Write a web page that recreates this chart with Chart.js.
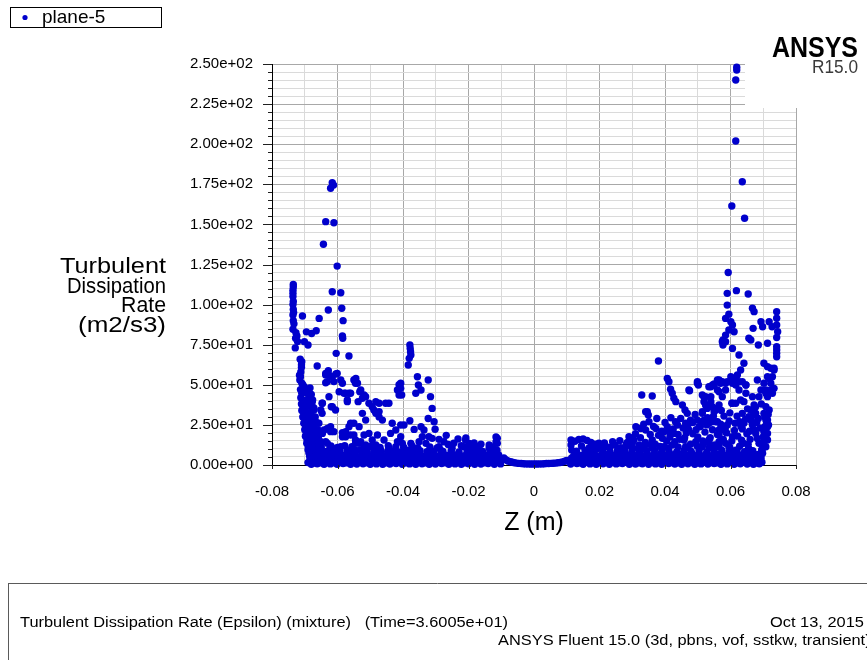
<!DOCTYPE html>
<html>
<head>
<meta charset="utf-8">
<title>plane-5 - Turbulent Dissipation Rate</title>
<script src="https://cdn.jsdelivr.net/npm/chart.js@4.4.1/dist/chart.umd.min.js"></script>
<style>
    html, body { margin: 0; padding: 0; background: #ffffff; }
    canvas { display: block; }
</style>
</head>
<body>
<canvas id="epsChart" width="867" height="660"></canvas>
<script>
// ===== DATA: [z (m), epsilon (m2/s3)] samples on plane-5 =====
const seriesName = 'plane-5';
const zTicksMajor = ['-0.08', '-0.06', '-0.04', '-0.02', '0', '0.02', '0.04', '0.06', '0.08'];

// isolated high values near the left jet
const leftPeaks = [
    [-0.0616, 176], [-0.0621, 172.5], [-0.0612, 174.5], [-0.0636, 151.7], [-0.0611, 151],
    [-0.0643, 137.6], [-0.0601, 124], [-0.0616, 108], [-0.0590, 107.4], [-0.0628, 96.6],
    [-0.0587, 97.7], [-0.0583, 90], [-0.0656, 91.4], [-0.0707, 92.9], [-0.0695, 83],
    [-0.0679, 82], [-0.0665, 83.7], [-0.0585, 80.4], [-0.0584, 79], [-0.0701, 76.9],
    [-0.0690, 74.8], [-0.0604, 69.6], [-0.0565, 68], [-0.0662, 61.7],
    [-0.0379, 74.8], [-0.0378, 72.7], [-0.0377, 70.6], [-0.0376, 68.6], [-0.0381, 66.5], [-0.0384, 62.3]
];

// near-wall band on the left side
const leftWall = [
    [-0.0735, 112.6], [-0.0735, 111], [-0.0736, 109], [-0.0736, 107], [-0.0736, 105],
    [-0.0735, 102], [-0.0736, 100], [-0.0735, 97], [-0.0734, 95], [-0.0736, 93.5],
    [-0.0735, 90], [-0.0733, 88], [-0.0736, 84.6], [-0.0727, 82.5], [-0.0724, 80.4],
    [-0.0728, 79], [-0.0722, 77], [-0.0729, 73], [-0.0714, 66], [-0.0709, 64.4],
    [-0.0710, 62.5], [-0.0710, 61], [-0.0712, 58], [-0.0716, 56], [-0.0713, 55],
    [-0.0715, 53], [-0.0709, 51], [-0.0706, 50], [-0.0702, 48.8], [-0.0713, 47],
    [-0.0701, 45.5], [-0.0709, 44.7], [-0.0712, 42], [-0.0707, 40.5], [-0.0700, 39],
    [-0.0710, 38], [-0.0705, 36.3], [-0.0698, 35], [-0.0709, 34], [-0.0702, 32],
    [-0.0696, 30], [-0.0706, 30], [-0.0699, 28], [-0.0703, 26], [-0.0692, 26],
    [-0.0697, 24], [-0.0700, 22], [-0.0689, 21.5], [-0.0695, 19.7], [-0.0698, 18],
    [-0.0686, 17], [-0.0693, 15.6], [-0.0694, 13.5], [-0.0682, 13], [-0.0689, 11.4],
    [-0.0690, 9.5], [-0.0679, 9], [-0.0687, 7.3], [-0.0685, 5.5], [-0.0675, 5],
    [-0.0681, 3.1], [-0.0680, 1.5], [-0.0672, 1.2],
    [-0.0684, 48], [-0.0680, 44], [-0.0688, 42], [-0.0676, 40.5], [-0.0684, 37],
    [-0.0672, 35.5], [-0.0680, 33], [-0.0690, 31], [-0.0668, 30], [-0.0676, 28.5],
    [-0.0686, 27], [-0.0664, 26.5], [-0.0672, 24], [-0.0682, 23], [-0.0660, 22],
    [-0.0670, 20], [-0.0680, 19], [-0.0658, 18], [-0.0666, 16], [-0.0676, 15],
    [-0.0654, 14.5], [-0.0664, 12.5], [-0.0672, 11], [-0.0650, 10.5], [-0.0661, 9.8],
    [-0.0693, 45], [-0.0696, 40], [-0.0694, 37.5]
];

// scattered values between the left wall and the centre
const leftCloud = [
    [-0.0636, 56.1], [-0.0628, 58.8], [-0.0616, 55], [-0.0605, 56.7], [-0.0636, 51.3],
    [-0.0590, 53], [-0.0595, 45.7], [-0.0580, 44.7], [-0.0560, 44.7], [-0.0550, 53],
    [-0.0545, 51], [-0.0532, 45.7], [-0.0537, 39.5], [-0.0524, 41.6], [-0.0570, 39.5],
    [-0.0626, 42.6], [-0.0619, 36.3], [-0.0677, 39.5], [-0.0647, 38.5], [-0.0672, 34.3],
    [-0.0647, 32.2], [-0.0657, 26], [-0.0641, 21.8], [-0.0621, 23.9], [-0.0611, 20.8],
    [-0.0585, 20.1], [-0.0575, 17.6], [-0.0560, 26], [-0.0550, 18.7], [-0.0636, 14.5],
    [-0.0616, 10.4], [-0.0590, 11.4], [-0.0565, 9.3], [-0.0545, 13.5], [-0.0529, 14.5],
    [-0.0514, 12.5], [-0.0641, 7.3], [-0.0575, 6.2], [-0.0514, 6.9],
    [-0.0636, 57], [-0.0626, 56], [-0.0601, 57], [-0.0631, 52], [-0.0611, 52],
    [-0.0585, 51], [-0.0544, 54], [-0.0539, 51], [-0.0575, 44.7], [-0.0565, 44.7],
    [-0.0570, 40.5], [-0.0529, 46.8], [-0.0519, 43.6], [-0.0514, 42.6], [-0.0483, 39.5],
    [-0.0473, 38.5], [-0.0453, 38.5], [-0.0443, 38.5], [-0.0417, 46.8], [-0.0412, 50],
    [-0.0412, 43.6], [-0.0494, 36.3], [-0.0483, 32.2], [-0.0473, 30], [-0.0463, 28],
    [-0.0646, 38.5], [-0.0651, 34.3], [-0.0677, 36.3], [-0.0682, 38.5], [-0.0687, 32.2],
    [-0.0616, 36.3], [-0.0606, 34.3], [-0.0631, 22.8], [-0.0621, 20.8], [-0.0646, 19.7],
    [-0.0651, 14.5], [-0.0631, 13.5], [-0.0585, 17.6], [-0.0575, 20.8], [-0.0565, 23.9],
    [-0.0550, 26], [-0.0560, 18.7], [-0.0545, 15.6], [-0.0534, 13.5], [-0.0519, 18.7],
    [-0.0504, 19.7], [-0.0494, 15.6], [-0.0478, 18.7], [-0.0483, 12.5], [-0.0458, 15.6],
    [-0.0438, 19.7], [-0.0433, 26], [-0.0422, 21.8], [-0.0407, 24.9], [-0.0417, 14.5],
    [-0.0524, 32.2], [-0.0514, 28], [-0.0534, 23.9], [-0.0504, 38.5], [-0.0489, 34.3],
    [-0.0473, 33.3], [-0.0677, 24.9], [-0.0667, 21.8], [-0.0677, 16.6], [-0.0656, 9.3],
    [-0.0626, 9.3], [-0.0616, 7.3], [-0.0595, 10.4], [-0.0545, 9.3], [-0.0509, 8.3],
    [-0.0473, 9.3], [-0.0443, 10.4], [-0.0422, 11.4],
    [-0.0407, 51], [-0.0407, 47.8], [-0.0404, 43.6], [-0.0356, 55], [-0.0353, 49.9],
    [-0.0345, 46.8], [-0.0361, 44.7], [-0.0323, 53], [-0.0316, 42.6], [-0.0311, 35.3],
    [-0.0323, 29], [-0.0305, 27], [-0.0302, 22.3], [-0.0379, 27.6], [-0.0397, 24.9],
    [-0.0366, 22.2], [-0.0345, 23.9], [-0.0336, 21.8], [-0.0341, 17.6], [-0.0321, 17.6],
    [-0.0311, 16.6], [-0.0351, 14.5], [-0.0330, 13.5], [-0.0407, 17.6], [-0.0402, 13.5],
    [-0.0376, 13.5], [-0.0382, 9.3], [-0.0290, 11.4], [-0.0285, 9.3],
    [-0.0209, 15.6], [-0.0198, 13.5], [-0.0214, 11.4], [-0.0183, 12.5], [-0.0168, 11.4],
    [-0.0163, 8.3], [-0.0188, 9.3], [-0.0137, 10.4], [-0.0112, 16.6], [-0.0112, 13.5],
    [-0.0208, 16.8], [-0.0183, 13.7], [-0.0162, 13], [-0.0116, 17.5], [-0.0116, 14.3],
    [-0.0137, 12.5], [-0.0177, 9.3], [-0.0159, 8.1],
    [-0.0275, 14.5], [-0.0262, 12.8], [-0.0245, 13.6], [-0.0232, 16.2], [-0.0268, 18.5],
    [-0.0290, 16.0], [-0.0222, 12.0]
];

// dense low band, left half
const leftBed = [
    [-0.0680, 0.5], [-0.0662, 0.8], [-0.0641, 0.4], [-0.0622, 0.7], [-0.0601, 0.5],
    [-0.0583, 0.9], [-0.0560, 0.4], [-0.0541, 0.6], [-0.0522, 0.8], [-0.0500, 0.5],
    [-0.0481, 0.7], [-0.0462, 0.4], [-0.0440, 0.6], [-0.0421, 0.9], [-0.0402, 0.5],
    [-0.0380, 0.7], [-0.0361, 0.4], [-0.0342, 0.8], [-0.0320, 0.5], [-0.0301, 0.6],
    [-0.0282, 0.9], [-0.0260, 0.4], [-0.0241, 0.7], [-0.0222, 0.5], [-0.0200, 0.8],
    [-0.0181, 0.4], [-0.0162, 0.6], [-0.0140, 0.9], [-0.0121, 0.5], [-0.0102, 0.7],
    [-0.0690, 1.5], [-0.0670, 1.8], [-0.0651, 1.3], [-0.0631, 1.6], [-0.0611, 1.4],
    [-0.0590, 1.7], [-0.0571, 1.3], [-0.0550, 1.6], [-0.0531, 1.8], [-0.0511, 1.4],
    [-0.0490, 1.5], [-0.0471, 1.7], [-0.0451, 1.3], [-0.0430, 1.6], [-0.0411, 1.8],
    [-0.0391, 1.4], [-0.0370, 1.5], [-0.0351, 1.7], [-0.0330, 1.3], [-0.0311, 1.6],
    [-0.0291, 1.8], [-0.0270, 1.4], [-0.0251, 1.5], [-0.0230, 1.7], [-0.0211, 1.3],
    [-0.0191, 1.6], [-0.0170, 1.8], [-0.0151, 1.4], [-0.0130, 1.5], [-0.0111, 1.7],
    [-0.0671, 2.6], [-0.0650, 2.2], [-0.0632, 2.9], [-0.0610, 2.4], [-0.0591, 2.0],
    [-0.0572, 2.7], [-0.0551, 2.3], [-0.0530, 2.8], [-0.0512, 2.1], [-0.0490, 2.5],
    [-0.0471, 2.9], [-0.0450, 2.2], [-0.0431, 2.6], [-0.0411, 2.0], [-0.0390, 2.7],
    [-0.0371, 2.4], [-0.0350, 2.1], [-0.0331, 2.8], [-0.0311, 2.3], [-0.0290, 2.6],
    [-0.0271, 2.0], [-0.0250, 2.7], [-0.0231, 2.4], [-0.0211, 2.9], [-0.0190, 2.2],
    [-0.0171, 2.5], [-0.0150, 2.8], [-0.0131, 2.1], [-0.0110, 2.6],
    [-0.0684, 3.5], [-0.0666, 3.3], [-0.0645, 3.7], [-0.0626, 3.4], [-0.0606, 3.6],
    [-0.0585, 3.2], [-0.0566, 3.8], [-0.0545, 3.4], [-0.0526, 3.5], [-0.0506, 3.7],
    [-0.0485, 3.3], [-0.0466, 3.6], [-0.0445, 3.4], [-0.0426, 3.8], [-0.0406, 3.2],
    [-0.0385, 3.5], [-0.0366, 3.7], [-0.0345, 3.3], [-0.0326, 3.6], [-0.0306, 3.4],
    [-0.0285, 3.8], [-0.0266, 3.2], [-0.0245, 3.5], [-0.0226, 3.7], [-0.0206, 3.3],
    [-0.0185, 3.6], [-0.0166, 3.4], [-0.0145, 3.8], [-0.0126, 3.2], [-0.0105, 3.5],
    [-0.0676, 4.6], [-0.0655, 4.1], [-0.0637, 4.8], [-0.0616, 4.3], [-0.0596, 3.9],
    [-0.0577, 4.7], [-0.0556, 4.2], [-0.0535, 4.9], [-0.0517, 4.0], [-0.0495, 4.5],
    [-0.0476, 4.8], [-0.0455, 4.1], [-0.0436, 4.6], [-0.0416, 3.9], [-0.0395, 4.4],
    [-0.0376, 4.9], [-0.0355, 4.2], [-0.0336, 4.7], [-0.0316, 4.0], [-0.0295, 4.5],
    [-0.0276, 4.8], [-0.0255, 4.1], [-0.0236, 4.6], [-0.0216, 4.3], [-0.0195, 4.9],
    [-0.0176, 4.0], [-0.0155, 4.5], [-0.0136, 4.8], [-0.0115, 4.2], [-0.0097, 3.8],
    [-0.0670, 5.5], [-0.0650, 5.3], [-0.0631, 5.7], [-0.0610, 5.4], [-0.0591, 5.6],
    [-0.0571, 5.2], [-0.0551, 5.8], [-0.0530, 5.4], [-0.0511, 5.5], [-0.0490, 5.7],
    [-0.0471, 5.3], [-0.0450, 5.6], [-0.0431, 5.4], [-0.0410, 5.8], [-0.0391, 5.2],
    [-0.0370, 5.5], [-0.0350, 5.7], [-0.0331, 5.3], [-0.0310, 5.6], [-0.0290, 5.4],
    [-0.0270, 5.8], [-0.0250, 5.2], [-0.0231, 5.5], [-0.0211, 5.7], [-0.0190, 5.3],
    [-0.0170, 5.6], [-0.0150, 5.4], [-0.0131, 5.8], [-0.0112, 5.2],
    [-0.0664, 6.5], [-0.0645, 6.0], [-0.0626, 6.8], [-0.0605, 6.3], [-0.0586, 5.9],
    [-0.0566, 6.6], [-0.0546, 6.2], [-0.0525, 6.9], [-0.0506, 6.1], [-0.0485, 6.4],
    [-0.0466, 6.8], [-0.0445, 6.0], [-0.0426, 6.5], [-0.0405, 6.2], [-0.0386, 6.9],
    [-0.0365, 6.3], [-0.0345, 6.0], [-0.0326, 6.6], [-0.0305, 6.2], [-0.0285, 6.7],
    [-0.0266, 5.9], [-0.0245, 6.4], [-0.0226, 6.1], [-0.0206, 6.6], [-0.0185, 6.0],
    [-0.0165, 6.5], [-0.0145, 6.2], [-0.0126, 6.7], [-0.0108, 6.3],
    [-0.0658, 8.8], [-0.0634, 8.4], [-0.0612, 9.1], [-0.0593, 8.2], [-0.0571, 8.9],
    [-0.0552, 8.5], [-0.0531, 9.3], [-0.0511, 8.3], [-0.0488, 8.7], [-0.0468, 9.0],
    [-0.0447, 8.4], [-0.0428, 8.8], [-0.0408, 8.2], [-0.0388, 9.1], [-0.0368, 8.5],
    [-0.0348, 8.9], [-0.0327, 8.3], [-0.0307, 8.6], [-0.0278, 8.4], [-0.0253, 8.8],
    [-0.0229, 8.2], [-0.0204, 8.6], [-0.0182, 8.9], [-0.0157, 8.4], [-0.0133, 8.7],
    [-0.0113, 9.2],
    [-0.0650, 11.2], [-0.0620, 11.8], [-0.0600, 11.0], [-0.0578, 12.1], [-0.0556, 11.4],
    [-0.0520, 10.8], [-0.0498, 11.6], [-0.0470, 10.9], [-0.0445, 12.0], [-0.0398, 11.1],
    [-0.0372, 11.7], [-0.0355, 10.6], [-0.0318, 11.3], [-0.0296, 10.7], [-0.0250, 10.5],
    [-0.0195, 10.8], [-0.0175, 11.5], [-0.0125, 11.2]
];

// quiet core around z = 0
const centerDip = [
    [-0.0092, 4.4], [-0.0088, 3.5], [-0.0083, 2.9], [-0.0078, 2.4], [-0.0072, 2.0],
    [-0.0066, 1.7], [-0.0060, 1.4], [-0.0053, 1.2], [-0.0046, 1.0], [-0.0039, 0.9],
    [-0.0032, 0.8], [-0.0025, 0.7], [-0.0018, 0.7], [-0.0011, 0.6], [-0.0004, 0.6],
    [0.0003, 0.6], [0.0010, 0.6], [0.0017, 0.7], [0.0024, 0.7], [0.0031, 0.8],
    [0.0038, 0.9], [0.0045, 0.9], [0.0052, 1.0], [0.0059, 1.1], [0.0066, 1.2],
    [0.0073, 1.4], [0.0080, 1.6], [0.0087, 1.9], [0.0094, 2.3], [0.0100, 2.8]
];

// dense low band, right half
const rightBed = [
    [0.0112, 0.6], [0.0131, 0.9], [0.0150, 0.5], [0.0171, 0.7], [0.0190, 0.4],
    [0.0211, 0.8], [0.0230, 0.5], [0.0251, 0.7], [0.0270, 0.9], [0.0291, 0.4],
    [0.0310, 0.6], [0.0331, 0.8], [0.0350, 0.5], [0.0371, 0.7], [0.0390, 0.4],
    [0.0411, 0.9], [0.0430, 0.6], [0.0451, 0.5], [0.0470, 0.8], [0.0491, 0.4],
    [0.0510, 0.7], [0.0531, 0.6], [0.0550, 0.9], [0.0571, 0.5], [0.0590, 0.7],
    [0.0611, 0.4], [0.0630, 0.8], [0.0651, 0.6], [0.0670, 0.5], [0.0688, 0.8],
    [0.0121, 1.6], [0.0140, 1.4], [0.0161, 1.8], [0.0180, 1.5], [0.0201, 1.3],
    [0.0220, 1.7], [0.0241, 1.5], [0.0260, 1.4], [0.0281, 1.8], [0.0300, 1.6],
    [0.0321, 1.3], [0.0340, 1.7], [0.0361, 1.5], [0.0380, 1.4], [0.0401, 1.8],
    [0.0420, 1.6], [0.0441, 1.3], [0.0460, 1.7], [0.0481, 1.5], [0.0500, 1.4],
    [0.0521, 1.8], [0.0540, 1.6], [0.0561, 1.3], [0.0580, 1.7], [0.0601, 1.5],
    [0.0620, 1.4], [0.0641, 1.8], [0.0660, 1.6], [0.0680, 1.3], [0.0696, 1.7],
    [0.0120, 2.5], [0.0141, 2.9], [0.0160, 2.2], [0.0181, 2.6], [0.0200, 2.0],
    [0.0221, 2.8], [0.0240, 2.3], [0.0261, 2.7], [0.0280, 2.1], [0.0301, 2.5],
    [0.0320, 2.9], [0.0341, 2.2], [0.0360, 2.6], [0.0381, 2.0], [0.0400, 2.8],
    [0.0421, 2.4], [0.0440, 2.1], [0.0461, 2.7], [0.0480, 2.3], [0.0501, 2.6],
    [0.0520, 2.0], [0.0541, 2.8], [0.0560, 2.4], [0.0581, 2.2], [0.0600, 2.7],
    [0.0621, 2.5], [0.0640, 2.1], [0.0661, 2.8], [0.0680, 2.4],
    [0.0126, 3.5], [0.0145, 3.3], [0.0166, 3.7], [0.0185, 3.4], [0.0206, 3.6],
    [0.0225, 3.2], [0.0246, 3.8], [0.0265, 3.4], [0.0286, 3.5], [0.0305, 3.7],
    [0.0326, 3.3], [0.0345, 3.6], [0.0366, 3.4], [0.0385, 3.8], [0.0406, 3.2],
    [0.0425, 3.5], [0.0446, 3.7], [0.0465, 3.3], [0.0486, 3.6], [0.0505, 3.4],
    [0.0526, 3.8], [0.0545, 3.2], [0.0566, 3.5], [0.0585, 3.7], [0.0606, 3.3],
    [0.0625, 3.6], [0.0646, 3.4], [0.0665, 3.8], [0.0684, 3.2],
    [0.0115, 4.4], [0.0136, 4.8], [0.0155, 4.1], [0.0176, 4.6], [0.0195, 4.0],
    [0.0216, 4.7], [0.0235, 4.2], [0.0256, 4.9], [0.0275, 4.3], [0.0296, 4.5],
    [0.0315, 4.8], [0.0336, 4.1], [0.0355, 4.6], [0.0376, 4.0], [0.0395, 4.4],
    [0.0416, 4.9], [0.0435, 4.2], [0.0456, 4.7], [0.0475, 4.1], [0.0496, 4.5],
    [0.0515, 4.8], [0.0536, 4.0], [0.0555, 4.6], [0.0576, 4.3], [0.0595, 4.9],
    [0.0616, 4.1], [0.0635, 4.5], [0.0656, 4.8], [0.0675, 4.2], [0.0692, 4.6],
    [0.0121, 5.5], [0.0140, 5.3], [0.0160, 5.7], [0.0181, 5.4], [0.0200, 5.6],
    [0.0220, 5.2], [0.0241, 5.8], [0.0260, 5.4], [0.0280, 5.5], [0.0301, 5.7],
    [0.0320, 5.3], [0.0340, 5.6], [0.0361, 5.4], [0.0380, 5.8], [0.0400, 5.2],
    [0.0421, 5.5], [0.0440, 5.7], [0.0460, 5.3], [0.0481, 5.6], [0.0500, 5.4],
    [0.0520, 5.8], [0.0541, 5.2], [0.0560, 5.5], [0.0580, 5.7], [0.0601, 5.3],
    [0.0620, 5.6], [0.0640, 5.4], [0.0661, 5.8], [0.0679, 5.2],
    [0.0125, 6.4], [0.0146, 6.0], [0.0165, 6.7], [0.0186, 6.2], [0.0205, 5.9],
    [0.0226, 6.6], [0.0245, 6.1], [0.0266, 6.8], [0.0285, 6.3], [0.0306, 6.0],
    [0.0325, 6.5], [0.0346, 6.9], [0.0365, 6.2], [0.0386, 6.6], [0.0405, 6.0],
    [0.0426, 6.4], [0.0445, 6.8], [0.0466, 6.1], [0.0485, 6.5], [0.0506, 6.0],
    [0.0525, 6.7], [0.0546, 6.3], [0.0565, 6.9], [0.0586, 6.1], [0.0605, 6.6],
    [0.0626, 6.2], [0.0645, 6.8], [0.0666, 6.0], [0.0684, 6.5],
    [0.0130, 8.6], [0.0156, 9.0], [0.0180, 8.3], [0.0210, 8.8], [0.0232, 8.4],
    [0.0255, 9.1], [0.0278, 8.5], [0.0300, 8.9], [0.0322, 8.2], [0.0345, 8.7],
    [0.0368, 9.2], [0.0390, 8.4], [0.0412, 8.8], [0.0436, 8.3], [0.0458, 9.0],
    [0.0480, 8.5], [0.0504, 8.9], [0.0528, 8.2], [0.0550, 8.7], [0.0574, 9.1],
    [0.0597, 8.4], [0.0620, 8.8], [0.0643, 8.3], [0.0668, 8.9],
    [0.0232, 11.0], [0.0248, 12.4], [0.0265, 10.8], [0.0282, 13.2], [0.0298, 11.6],
    [0.0318, 10.5], [0.0338, 12.0], [0.0360, 10.9], [0.0385, 11.5], [0.0410, 10.6],
    [0.0440, 11.3], [0.0470, 10.8], [0.0498, 11.9], [0.0535, 10.7], [0.0565, 11.4],
    [0.0598, 10.9], [0.0628, 11.7], [0.0655, 10.5],
    [0.0215, 13.8], [0.0240, 14.5], [0.0262, 15.2], [0.0285, 14.0], [0.0300, 13.4],
    [0.0113, 15.6], [0.0113, 12.5], [0.0115, 9.3], [0.0125, 14.8], [0.0137, 15.9],
    [0.0150, 16.2], [0.0162, 15.3], [0.0174, 14.0], [0.0186, 12.9], [0.0198, 13.6],
    [0.0210, 12.2], [0.0145, 11.8], [0.0168, 10.6], [0.0190, 9.8], [0.0205, 10.4],
    [0.0178, 12.0], [0.0220, 11.5]
];

// scattered values on the right side
const rightCloud = [
    [0.0380, 64.8], [0.0407, 54], [0.0412, 51.9], [0.0417, 47.2], [0.0422, 44.7],
    [0.0427, 41.6], [0.0433, 39.5], [0.0329, 43.6], [0.0361, 43], [0.0341, 33.2],
    [0.0349, 31.2], [0.0453, 37.4], [0.0461, 34.3], [0.0468, 32.2], [0.0475, 46.3],
    [0.0499, 51.9], [0.0499, 51], [0.0514, 43.6], [0.0519, 39.5], [0.0514, 33.2],
    [0.0526, 36.8], [0.0540, 48.8], [0.0550, 50.5], [0.0565, 53], [0.0560, 46.8],
    [0.0575, 51.9], [0.0585, 51], [0.0565, 37.4], [0.0555, 34.3], [0.0575, 76.9],
    [0.0311, 23.9], [0.0326, 22.8], [0.0341, 21.8], [0.0351, 27], [0.0372, 22.8],
    [0.0407, 23.9], [0.0412, 20.8], [0.0427, 19.7], [0.0438, 24.9], [0.0463, 26],
    [0.0473, 21.8], [0.0478, 28], [0.0499, 28], [0.0504, 23.9], [0.0514, 27],
    [0.0534, 26], [0.0544, 27], [0.0560, 27], [0.0570, 22.8], [0.0565, 18.7],
    [0.0585, 20.8], [0.0290, 17.6], [0.0305, 15.6], [0.0280, 11.4], [0.0321, 12.5],
    [0.0361, 15.6], [0.0392, 16.6], [0.0397, 11.4], [0.0422, 12.5], [0.0458, 15.6],
    [0.0463, 11.4], [0.0494, 14.5], [0.0514, 11.4], [0.0534, 15.6], [0.0544, 11.4],
    [0.0565, 13.5], [0.0529, 5.2], [0.0504, 6.2], [0.0346, 33.2],
    [0.0473, 46.8], [0.0502, 49.9], [0.0519, 42.6], [0.0524, 37.4], [0.0540, 39.5],
    [0.0550, 35.3], [0.0534, 48.8], [0.0545, 49.9], [0.0570, 51], [0.0565, 45.7],
    [0.0585, 46.8], [0.0590, 51.9], [0.0601, 55], [0.0616, 53], [0.0626, 46.8],
    [0.0636, 51.9], [0.0647, 49.9], [0.0616, 38.5],
    [0.0524, 42.6], [0.0540, 42.6], [0.0550, 49.9], [0.0560, 53], [0.0575, 42.6],
    [0.0544, 36.3], [0.0550, 33.2], [0.0529, 35.3], [0.0514, 32.2], [0.0519, 28],
    [0.0555, 27], [0.0565, 21.8], [0.0585, 23.9], [0.0606, 17.6], [0.0565, 14.5],
    [0.0534, 14.5], [0.0585, 13.5], [0.0519, 13.5], [0.0595, 11.4], [0.0616, 9.3],
    [0.0652, 8.3], [0.0677, 19.7], [0.0687, 13.5], [0.0604, 38.5],
    [0.0310, 19.5], [0.0325, 17.0], [0.0335, 25.5], [0.0340, 14.0], [0.0355, 19.0],
    [0.0365, 24.0], [0.0370, 13.0], [0.0380, 18.5], [0.0390, 21.0], [0.0400, 26.5],
    [0.0405, 15.0], [0.0415, 17.5], [0.0425, 22.5], [0.0430, 14.5], [0.0440, 19.0],
    [0.0448, 29.0], [0.0455, 23.0], [0.0460, 17.0], [0.0470, 25.0], [0.0478, 13.0],
    [0.0485, 19.5], [0.0492, 31.5], [0.0500, 17.5], [0.0508, 24.0], [0.0515, 15.0],
    [0.0522, 20.5], [0.0530, 29.5], [0.0538, 17.0], [0.0545, 22.0], [0.0552, 12.5],
    [0.0560, 19.0], [0.0570, 25.5], [0.0578, 16.0], [0.0588, 20.0], [0.0596, 27.5],
    [0.0604, 15.0], [0.0612, 21.5], [0.0622, 18.0], [0.0632, 24.0], [0.0640, 13.5],
    [0.0650, 19.5], [0.0660, 16.0], [0.0672, 22.0], [0.0680, 26.5],
    [0.0620, 30.5], [0.0628, 27], [0.0636, 22.5], [0.0646, 28.5], [0.0652, 35],
    [0.0658, 21], [0.0664, 27.5], [0.0670, 31], [0.0676, 36], [0.0682, 16.5],
    [0.0690, 23], [0.0694, 38], [0.0654, 13], [0.0634, 15.5], [0.0614, 26],
    [0.0598, 32.5], [0.0590, 25], [0.0580, 30.5], [0.0572, 34], [0.0548, 30.5],
    [0.0528, 25], [0.0495, 22], [0.0485, 26.5], [0.0465, 20], [0.0445, 16],
    [0.0432, 27], [0.0418, 29.5], [0.0395, 20.5], [0.0375, 29], [0.0358, 12.5],
    [0.0330, 9.8], [0.0300, 16.5]
];

// high values near the right jet and the right wall
const rightPeaks = [
    [0.0619, 248], [0.0619, 246.2], [0.0616, 240], [0.0616, 202], [0.0636, 176.6],
    [0.0604, 161.5], [0.0643, 153.8], [0.0593, 120], [0.0590, 107], [0.0618, 108.7],
    [0.0654, 106.6], [0.0590, 99.7], [0.0595, 94], [0.0585, 91.4], [0.0601, 89.3],
    [0.0606, 87.3], [0.0611, 83.1], [0.0595, 84.2], [0.0585, 81], [0.0577, 78],
    [0.0577, 74.8], [0.0585, 76.9], [0.0606, 72.7], [0.0667, 97.7], [0.0672, 95.6],
    [0.0669, 85.2], [0.0656, 79], [0.0662, 77.9], [0.0685, 74.8], [0.0693, 89.3],
    [0.0698, 86.2], [0.0718, 89.3], [0.0727, 86.2], [0.0741, 95.6], [0.0741, 87.3],
    [0.0744, 83.1], [0.0713, 75.9], [0.0741, 73.7], [0.0741, 71.7], [0.0741, 69.6],
    [0.0741, 67.5], [0.0626, 68.6], [0.0641, 63.4], [0.0631, 59.2], [0.0621, 56.1],
    [0.0611, 54], [0.0606, 51], [0.0616, 49.9], [0.0626, 51.9], [0.0647, 49.9],
    [0.0647, 44.7], [0.0641, 39.5], [0.0631, 40.5], [0.0606, 38.5], [0.0702, 63.4],
    [0.0713, 61.3], [0.0723, 60.3], [0.0733, 59.2], [0.0718, 54], [0.0713, 55],
    [0.0723, 46.8], [0.0708, 44.7], [0.0693, 46.8], [0.0682, 53], [0.0687, 42.6],
    [0.0667, 42.6], [0.0672, 37.4], [0.0662, 34.3], [0.0677, 32.2], [0.0685, 29],
    [0.0656, 30.1], [0.0636, 32.2], [0.0641, 26], [0.0667, 24.9], [0.0733, 60.3],
    [0.0728, 55], [0.0723, 51], [0.0733, 47.8], [0.0728, 44.7], [0.0741, 79.5],
    [0.0741, 91.5]
];

const rightWall = [
    [0.0713, 28], [0.0713, 23.9], [0.0713, 19.7], [0.0713, 15.6], [0.0708, 11.4],
    [0.0698, 7.3], [0.0693, 4.2], [0.0687, 1.1], [0.0718, 34.3], [0.0702, 51],
    [0.0708, 46.8], [0.0713, 42.6], [0.0708, 36.3], [0.0702, 32.2], [0.0708, 28],
    [0.0705, 23.9], [0.0702, 20.8], [0.0700, 17.6], [0.0698, 13.5], [0.0695, 9.3],
    [0.0705, 30], [0.0710, 26], [0.0703, 22], [0.0706, 18], [0.0700, 14],
    [0.0697, 10], [0.0692, 6], [0.0688, 3], [0.0715, 31.5], [0.0716, 25]
];

// ===== HELPERS =====
const FONT = "'Liberation Sans', Arial, sans-serif";

function sciLabel(v) {
    const parts = v.toExponential(2).split('e');
    const exp = parts[1];
    return parts[0] + 'e' + exp[0] + exp.slice(1).padStart(2, '0');
}

function zLabel(v) {
    const k = Math.round(v * 100);
    if (k % 2 !== 0) return '';
    return zTicksMajor[(k + 8) / 2];
}

// draw text squeezed/stretched horizontally
function fitText(ctx, text, x, y, sx, align) {
    ctx.save();
    ctx.translate(x, y);
    ctx.scale(sx, 1);
    ctx.textAlign = align || 'left';
    ctx.fillText(text, 0, 0);
    ctx.restore();
}

// ===== DECORATIONS: legend box, axis titles, logo, footer =====
const decorPlugin = {
    id: 'decor',
    beforeDatasetsDraw(chart) {
        const ctx = chart.ctx;
        // logo area masks the grid in the top-right corner
        ctx.save();
        ctx.fillStyle = '#ffffff';
        ctx.fillRect(745, 0, 122, 108);
        ctx.restore();
    },
    afterDraw(chart) {
        const ctx = chart.ctx;
        const xs = chart.scales.x;
        const ys = chart.scales.y;
        ctx.save();

        // tick marks
        ctx.strokeStyle = '#202020';
        ctx.lineWidth = 1;
        ctx.beginPath();
        ys.ticks.forEach(t => {
            const py = Math.round(ys.getPixelForValue(t.value)) + 0.5;
            const len = t.value % 25 === 0 ? 9 : 4;
            ctx.moveTo(chart.chartArea.left - len, py);
            ctx.lineTo(chart.chartArea.left, py);
        });
        xs.ticks.forEach(t => {
            if (Math.round(t.value * 100) % 2 !== 0) return;
            const px = Math.round(xs.getPixelForValue(t.value)) + 0.5;
            ctx.moveTo(px, chart.chartArea.bottom);
            ctx.lineTo(px, chart.chartArea.bottom + 4);
        });
        ctx.stroke();

        // legend
        ctx.strokeStyle = '#000000';
        ctx.strokeRect(10.5, 7.5, 151, 20);
        ctx.fillStyle = '#0000cc';
        ctx.beginPath();
        ctx.arc(25, 17.5, 2.6, 0, Math.PI * 2);
        ctx.fill();
        ctx.fillStyle = '#000000';
        ctx.font = '19px ' + FONT;
        ctx.textBaseline = 'middle';
        ctx.textAlign = 'left';
        ctx.fillText(seriesName, 42, 17.5);

        // y axis title, each line fitted to its width
        ctx.font = '22px ' + FONT;
        [['Turbulent', 106], ['Dissipation', 99], ['Rate', 45], ['(m2/s3)', 88]].forEach((row, i) => {
            const lw = ctx.measureText(row[0]).width;
            fitText(ctx, row[0], 166, 267 + i * 19.5, row[1] / lw, 'right');
        });

        // x axis title
        ctx.font = '25px ' + FONT;
        ctx.textAlign = 'center';
        ctx.fillText('Z (m)', 534, 523);

        // logo
        ctx.textBaseline = 'alphabetic';
        ctx.font = 'bold 30px ' + FONT;
        let w = ctx.measureText('ANSYS').width;
        fitText(ctx, 'ANSYS', 858, 57, 86 / w, 'right');
        ctx.fillStyle = '#3a3a3a';
        ctx.font = '19px ' + FONT;
        w = ctx.measureText('R15.0').width;
        fitText(ctx, 'R15.0', 858, 73, 46 / w, 'right');

        // footer frame and captions
        ctx.strokeStyle = '#5a5a5a';
        ctx.beginPath();
        ctx.moveTo(8, 583.5);
        ctx.lineTo(867, 583.5);
        ctx.moveTo(8.5, 583);
        ctx.lineTo(8.5, 660);
        ctx.stroke();

        ctx.fillStyle = '#000000';
        ctx.font = '14px ' + FONT;
        ctx.textBaseline = 'middle';
        const cap = 'Turbulent Dissipation Rate (Epsilon) (mixture)   (Time=3.6005e+01)';
        const sx = 488 / ctx.measureText(cap).width;
        fitText(ctx, cap, 20, 623, sx, 'left');
        fitText(ctx, 'Oct 13, 2015', 770, 623, sx, 'left');
        fitText(ctx, 'ANSYS Fluent 15.0 (3d, pbns, vof, sstkw, transient)', 498, 641, sx, 'left');

        ctx.restore();
    }
};

// ===== CHART =====
const points = [].concat(leftWall, leftBed, leftCloud, leftPeaks, centerDip,
    rightBed, rightCloud, rightWall, rightPeaks).map(p => ({ x: p[0], y: p[1] }));

new Chart(document.getElementById('epsChart'), {
    type: 'scatter',
    data: {
        datasets: [{
            label: seriesName,
            data: points,
            backgroundColor: '#0000cc',
            borderWidth: 0,
            pointRadius: 3.7,
            pointHoverRadius: 3.7,
            clip: false
        }]
    },
    options: {
        responsive: false,
        animation: false,
        devicePixelRatio: 1,
        layout: { padding: { left: 0, right: 71, top: 64, bottom: 0 } },
        plugins: {
            legend: { display: false },
            tooltip: { enabled: false }
        },
        scales: {
            x: {
                type: 'linear',
                min: -0.08,
                max: 0.08,
                afterFit: s => { s.height = 195; },
                ticks: {
                    stepSize: 0.01,
                    autoSkip: false,
                    minRotation: 0,
                    maxRotation: 0,
                    padding: 18,
                    color: '#000000',
                    font: { family: FONT, size: 15 },
                    callback: v => zLabel(v)
                },
                grid: {
                    drawTicks: false,
                    color: c => (Math.round(c.tick.value * 100) % 2 === 0 ? '#a8a8a8' : '#dadada')
                },
                border: { color: '#000000' }
            },
            y: {
                type: 'linear',
                min: 0,
                max: 250,
                afterFit: s => { s.width = 272; },
                ticks: {
                    stepSize: 5,
                    autoSkip: false,
                    padding: 19,
                    color: '#000000',
                    font: { family: FONT, size: 15 },
                    callback: v => (v % 25 === 0 ? sciLabel(v) : '')
                },
                grid: {
                    drawTicks: false,
                    color: c => (c.tick.value % 25 === 0 ? '#a8a8a8' : '#dadada')
                },
                border: { color: '#000000' }
            }
        }
    },
    plugins: [decorPlugin]
});
</script>
</body>
</html>
